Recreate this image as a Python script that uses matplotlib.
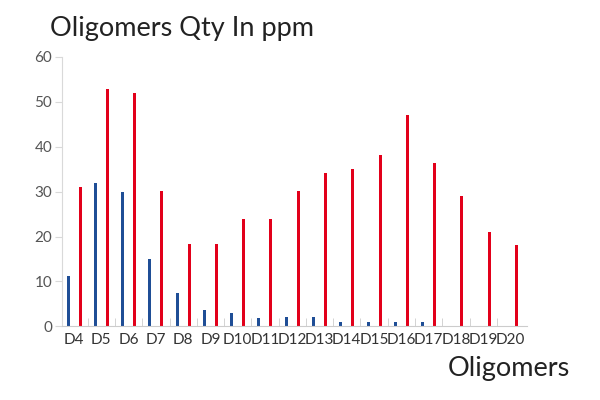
import numpy as np
import matplotlib.pyplot as plt

# data
categories = ["D4", "D5", "D6", "D7", "D8", "D9", "D10", "D11", "D12",
              "D13", "D14", "D15", "D16", "D17", "D18", "D19", "D20"]
blue_vals = [11.2, 31.9, 29.9, 15.0, 7.5, 3.7, 3.0, 1.8, 2.1,
             2.1, 1.0, 1.0, 1.0, 1.0, 0, 0, 0]
red_vals = [31.0, 52.8, 51.9, 30.1, 18.3, 18.3, 23.9, 23.9, 30.1,
            34.1, 35.0, 38.1, 47.0, 36.3, 29.0, 21.0, 18.1]

plt.rcParams['font.family'] = ['Lato', 'DejaVu Sans']

fig = plt.figure(figsize=(6, 4), dpi=100)
ax = fig.add_axes([0.103, 0.184, 0.775, 0.674])

x = np.arange(len(categories))
w = 0.11
ax.bar(x - 0.22, blue_vals, width=w, color="#1f4e96")
ax.bar(x + 0.22, red_vals, width=w, color="#e2001a")

ax.set_ylim(0, 60)
ax.set_xlim(-0.45, len(categories) - 0.4)
ax.set_yticks(range(0, 61, 10))
ax.set_xticks(x)
ax.set_xticklabels(categories)
ax.set_xticks(np.arange(0.5, len(categories) - 1, 1), minor=True)

for s in ["top", "right"]:
    ax.spines[s].set_visible(False)
ax.spines["left"].set_color("#d9d9d9")
ax.spines["bottom"].set_color("#cccccc")
ax.tick_params(axis="x", which="major", length=0, pad=5, labelsize=11, labelcolor="#333333")
ax.tick_params(axis="x", which="minor", direction="in", length=6, color="#cccccc")
ax.tick_params(axis="y", length=5, pad=2, color="#d9d9d9", labelsize=11, labelcolor="#555555")

fig.text(0.083, 0.91, "Oligomers Qty In ppm", fontsize=19.5, color="#222222")
fig.text(0.95, 0.06, "Oligomers", fontsize=19.5, color="#222222", ha="right")

fig.savefig("out.png", dpi=100)
